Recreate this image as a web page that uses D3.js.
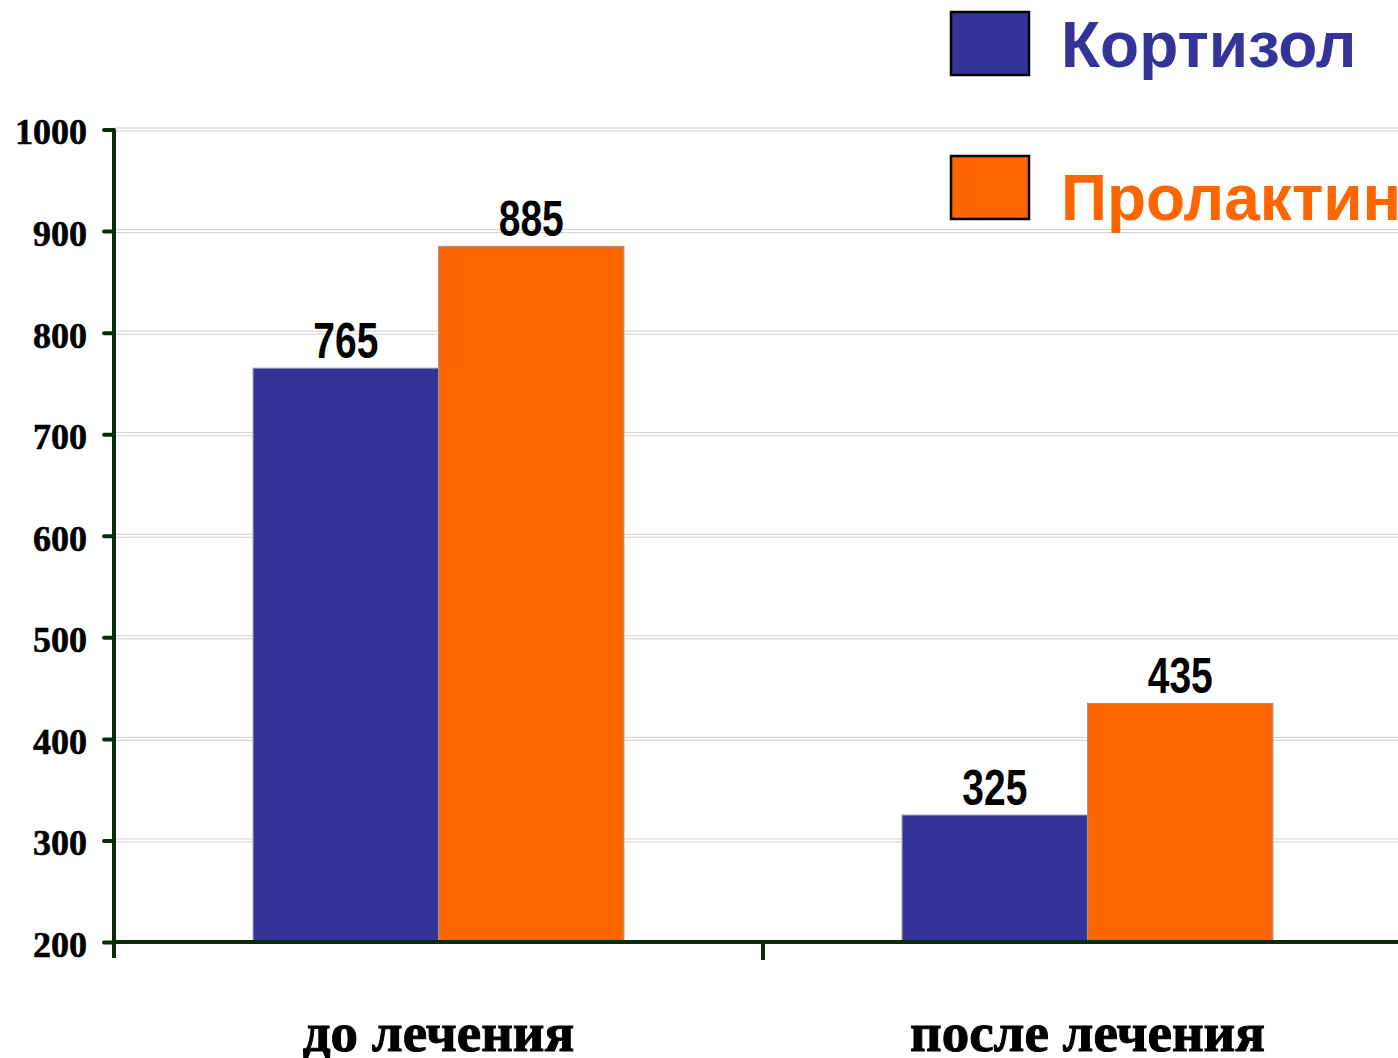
<!DOCTYPE html>
<html>
<head>
<meta charset="utf-8">
<script src="https://cdn.jsdelivr.net/npm/d3@7"></script>
<style>
  body { margin: 0; background: #fff; }
  svg { display: block; }
</style>
</head>
<body>
<svg id="chart" width="1398" height="1058"></svg>
<script>
// data
var categories = ["до лечения", "после лечения"];
var seriesNames = ["Кортизол", "Пролактин"];
var cortisol = [765, 325];
var prolactin = [885, 435];
var yTicks = [200, 300, 400, 500, 600, 700, 800, 900, 1000];

var colors = ["#333399", "#ff6600"];
var axisColor = "#0b2b0b";

var svg = d3.select("#chart");

var x0 = 114, x1 = 1412, yTop = 129.5, yBot = 942;

var x = d3.scaleBand()
    .domain(categories)
    .range([x0, x1]);

var xs = d3.scaleBand()
    .domain(seriesNames)
    .range([0, x.bandwidth()])
    .paddingInner(0)
    .paddingOuter(0.75);

var y = d3.scaleLinear()
    .domain([200, 1000])
    .range([yBot, yTop]);

var rows = categories.map(function(c, i) {
  return {cat: c, values: [
    {name: seriesNames[0], value: cortisol[i]},
    {name: seriesNames[1], value: prolactin[i]}
  ]};
});

// gridlines (double thin lines)
var grid = svg.append("g");
yTicks.slice(1).forEach(function(t) {
  [-1.5, 1.5].forEach(function(off) {
    grid.append("line")
      .attr("x1", x0).attr("x2", 1398)
      .attr("y1", y(t) + off).attr("y2", y(t) + off)
      .attr("stroke", "#cfcfcf")
      .attr("stroke-width", 1);
  });
});

// bars
var groups = svg.selectAll("g.grp")
    .data(rows)
  .enter().append("g")
    .attr("class", "grp")
    .attr("transform", function(d) { return "translate(" + x(d.cat) + ",0)"; });

groups.selectAll("rect")
    .data(function(d) { return d.values; })
  .enter().append("rect")
    .attr("x", function(d) { return xs(d.name); })
    .attr("y", function(d) { return y(d.value); })
    .attr("width", xs.bandwidth())
    .attr("height", function(d) { return yBot - y(d.value); })
    .attr("fill", function(d, i) { return colors[i]; })
    .attr("stroke", "#9a9a9a")
    .attr("stroke-width", 1);

// value labels, squeezed to look like a narrow face
groups.selectAll("text.val")
    .data(function(d) { return d.values; })
  .enter().append("text")
    .attr("class", "val")
    .attr("transform", function(d) {
      return "translate(" + (xs(d.name) + xs.bandwidth() / 2) + "," + (y(d.value) - 10) + ") scale(0.78,1)";
    })
    .attr("text-anchor", "middle")
    .attr("font-family", "'Liberation Sans', Arial, sans-serif")
    .attr("font-weight", "bold")
    .attr("font-size", 50)
    .attr("fill", "#000")
    .text(function(d) { return d.value; });

// y axis
var yAxis = d3.axisLeft(y)
    .tickValues(yTicks)
    .tickSize(10)
    .tickPadding(17)
    .tickFormat(d3.format("d"));

var ya = svg.append("g")
    .attr("transform", "translate(" + x0 + ",0)")
    .call(yAxis);
ya.select(".domain").remove();
ya.append("line")
    .attr("x1", 0).attr("x2", 0)
    .attr("y1", yTop).attr("y2", yBot + 16)
    .attr("stroke", axisColor).attr("stroke-width", 4);
ya.selectAll(".tick line")
    .attr("stroke", axisColor).attr("stroke-width", 4)
    .attr("stroke-linecap", "round");
ya.selectAll(".tick text")
    .attr("font-family", "'Liberation Serif', 'Times New Roman', serif")
    .attr("font-weight", "bold")
    .attr("font-size", 36)
    .attr("fill", "#000")
    .attr("stroke", "#000")
    .attr("stroke-width", 0.6)
    .attr("dy", "0.4em");

// x axis
var xAxis = d3.axisBottom(x)
    .tickSize(0)
    .tickPadding(70);

var xa = svg.append("g")
    .attr("transform", "translate(0," + yBot + ")")
    .call(xAxis);
xa.select(".domain").remove();
xa.append("line")
    .attr("x1", x0).attr("x2", 1398)
    .attr("y1", 0).attr("y2", 0)
    .attr("stroke", axisColor).attr("stroke-width", 4);
xa.selectAll(".bnd")
    .data(categories.slice(1))
  .enter().append("line")
    .attr("x1", function(d) { return x(d); })
    .attr("x2", function(d) { return x(d); })
    .attr("y1", 0).attr("y2", 18)
    .attr("stroke", axisColor).attr("stroke-width", 4);
xa.selectAll(".tick text")
    .attr("font-family", "'Liberation Serif', 'Times New Roman', serif")
    .attr("font-weight", "bold")
    .attr("font-size", 55)
    .attr("fill", "#000")
    .attr("stroke", "#000")
    .attr("stroke-width", 1);

// legend
var swatchY = [12, 156];
var labelY = [67, 220];

var legend = svg.selectAll("g.leg")
    .data(seriesNames)
  .enter().append("g")
    .attr("class", "leg");

legend.append("rect")
    .attr("x", 951)
    .attr("y", function(d, i) { return swatchY[i]; })
    .attr("width", 78).attr("height", 63)
    .attr("fill", function(d, i) { return colors[i]; })
    .attr("stroke", "#000").attr("stroke-width", 2.5);

legend.append("text")
    .attr("x", 1061)
    .attr("y", function(d, i) { return labelY[i]; })
    .attr("font-family", "'Liberation Sans', Arial, sans-serif")
    .attr("font-weight", "bold")
    .attr("font-size", 64)
    .attr("fill", function(d, i) { return colors[i]; })
    .text(function(d) { return d; });
</script>
</body>
</html>
